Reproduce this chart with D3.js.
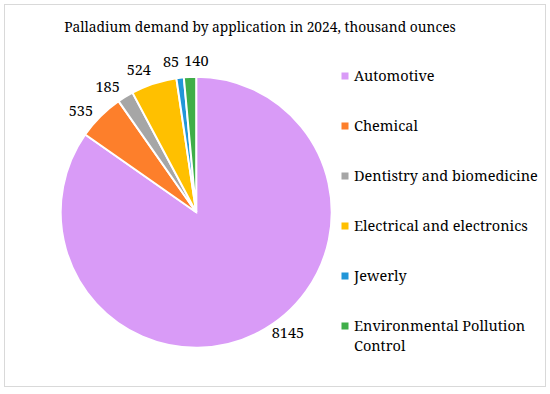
<!DOCTYPE html>
<html>
<head>
<meta charset="utf-8">
<script src="https://cdn.jsdelivr.net/npm/d3@7"></script>
<style>
  body { margin: 0; background: #fff; }
  text { font-family: "Noto Serif", "Liberation Serif", serif; fill: #000; }
</style>
</head>
<body>
<script>
// data
var categories = ["Automotive", "Chemical", "Dentistry and biomedicine",
                  "Electrical and electronics", "Jewerly", "Environmental Pollution Control"];
var values = [8145, 535, 185, 524, 85, 140];
var colors = ["#d99bf7", "#fd7f2b", "#a6a6a6", "#ffc000", "#2196d8", "#3fae49"];

var width = 550, height = 394;
var cx = 196.2, cy = 212.2, radius = 135.5;

var svg = d3.select("body").append("svg")
    .attr("width", width)
    .attr("height", height);

// frame
svg.append("rect")
    .attr("x", 4.5).attr("y", 4.5)
    .attr("width", 541).attr("height", 382)
    .attr("fill", "#fff")
    .attr("stroke", "#d9d9d9")
    .attr("stroke-width", 1);

svg.append("text")
    .attr("x", 260).attr("y", 32)
    .attr("text-anchor", "middle")
    .style("font-size", "13.8px")
    .text("Palladium demand by application in 2024, thousand ounces");

var color = d3.scaleOrdinal().domain(categories).range(colors);

var pie = d3.pie().sort(null).value(function(d){ return d.value; });

var arc = d3.arc().outerRadius(radius).innerRadius(0);

var data = categories.map(function(c, i){ return {name: c, value: values[i]}; });

var g = svg.append("g")
    .attr("transform", "translate(" + cx + "," + cy + ")");

var arcs = pie(data);

var slices = g.selectAll(".arc")
    .data(arcs)
    .enter().append("g")
    .attr("class", "arc");

slices.append("path")
    .attr("d", arc)
    .style("fill", function(d){ return color(d.data.name); })
    .style("stroke", "#fff")
    .style("stroke-width", 2);

// outside-end labels, nudged round a little the way excel places them
var labels = slices.append("text")
    .attr("dy", ".35em")
    .attr("text-anchor", "middle")
    .style("font-size", "14.5px")
    .text(function(d){ return d.data.value; });

var pos = [];
labels.each(function(d){
    var a = (d.startAngle + d.endAngle) / 2;
    var r = radius + 16;
    if (d.index === 0) a -= 0.17;
    else if (d.index < 4) { a -= 0.065; r += 2; }
    pos.push({x: Math.sin(a) * r, y: -Math.cos(a) * r, w: this.getComputedTextLength()});
});

// push crowded labels apart sideways
for (var it = 0; it < 50; it++) {
    for (var i = 1; i < pos.length; i++) {
        for (var j = i + 1; j < pos.length; j++) {
            var p = pos[i], q = pos[j];
            if (Math.abs(p.y - q.y) > 15) continue;
            var need = (p.w + q.w) / 2 + 5;
            var gap = q.x - p.x;
            if (gap < need) {
                var s = (need - gap) / 2;
                p.x -= s; q.x += s;
            }
        }
    }
}

labels.attr("transform", function(d, i){
    return "translate(" + pos[i].x + "," + pos[i].y + ")";
});

// legend
var legend = svg.append("g")
    .attr("transform", "translate(341.5,76)");

var item = legend.selectAll(".item")
    .data(categories)
    .enter().append("g")
    .attr("class", "item")
    .attr("transform", function(d, i){ return "translate(0," + (i * 50) + ")"; });

item.append("rect")
    .attr("x", 0).attr("y", -3.5)
    .attr("width", 7).attr("height", 7)
    .style("fill", function(d){ return color(d); });

item.append("text")
    .attr("x", 12.5).attr("y", 5)
    .style("font-size", "14.5px")
    .each(function(d){
        var lines = d === "Environmental Pollution Control"
            ? ["Environmental Pollution", "Control"] : [d];
        var t = d3.select(this);
        lines.forEach(function(l, k){
            t.append("tspan").attr("x", 12.5).attr("dy", k ? 20 : 0).text(l);
        });
    });
</script>
</body>
</html>
